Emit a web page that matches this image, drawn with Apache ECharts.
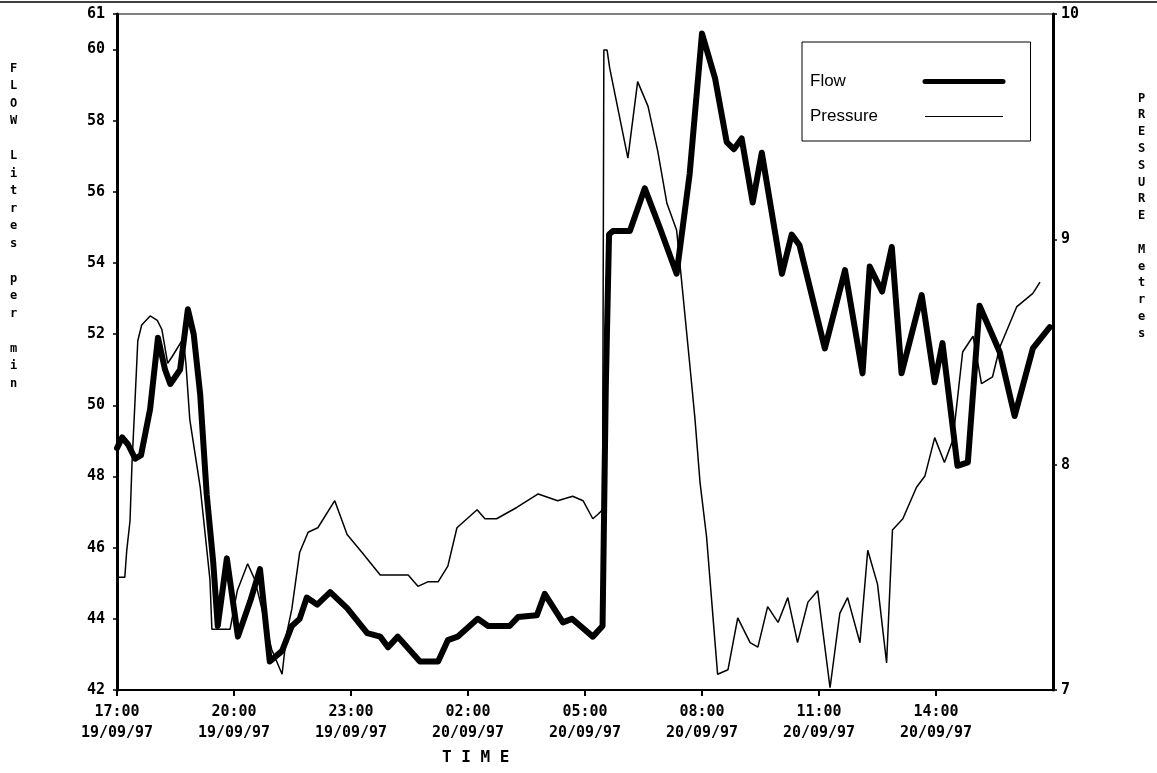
<!DOCTYPE html>
<html>
<head>
<meta charset="utf-8">
<script src="https://cdn.jsdelivr.net/npm/echarts@6/dist/echarts.min.js"></script>
<style>html,body{margin:0;padding:0;background:#fff;}#c{width:1157px;height:773px;}</style>
</head>
<body>
<div id="c"></div>
<script>
// minutes after 17:00 on 19/09/97
const flowTime = [0,8,17,28,37,51,63,74,82,97,109,118,128,138,148,155,169,186,205,220,235,254,269,281,292,308,328,354,385,405,417,432,466,494,509,524,555,571,604,617,646,658,686,700,732,747,752,757,763,789,812,835,861,881,900,920,938,949,961,978,992,1023,1038,1050,1089,1120,1147,1158,1177,1192,1207,1238,1258,1270,1293,1309,1327,1358,1381,1409,1435];
const flowValue = [48.8,49.1,48.9,48.5,48.6,49.9,51.9,51.0,50.6,51.0,52.7,52.0,50.3,47.5,45.6,43.8,45.7,43.5,44.5,45.4,42.8,43.1,43.8,44.0,44.6,44.4,44.75,44.3,43.6,43.5,43.2,43.5,42.8,42.8,43.4,43.5,44.0,43.8,43.8,44.05,44.1,44.7,43.9,44.0,43.5,43.8,50.5,54.8,54.9,54.9,56.1,55.0,53.7,56.5,60.45,59.2,57.4,57.2,57.5,55.7,57.1,53.7,54.8,54.5,51.6,53.8,50.9,53.9,53.2,54.45,50.9,53.1,50.65,51.75,48.3,48.4,52.8,51.5,49.7,51.6,52.2];
const pressureTime = [0,12,15,20,23,28,32,38,51,62,69,78,85,102,106,112,128,143,146,174,185,201,212,238,254,261,269,281,294,309,335,354,377,405,448,463,478,494,509,523,554,566,584,615,648,678,701,717,732,740,747,749,754,758,786,801,817,832,846,861,881,889,897,907,917,924,940,955,974,986,1001,1017,1032,1047,1063,1078,1097,1112,1124,1143,1155,1170,1184,1193,1209,1230,1243,1258,1273,1286,1301,1317,1330,1347,1358,1384,1409,1420];
const pressureValue = [7.5,7.5,7.62,7.75,8.0,8.3,8.55,8.62,8.66,8.64,8.6,8.45,8.48,8.56,8.45,8.2,7.9,7.49,7.27,7.27,7.44,7.56,7.49,7.18,7.07,7.25,7.36,7.61,7.7,7.72,7.84,7.69,7.61,7.51,7.51,7.46,7.48,7.48,7.55,7.72,7.8,7.76,7.76,7.81,7.87,7.84,7.86,7.84,7.76,7.78,7.8,9.84,9.84,9.76,9.36,9.7,9.59,9.39,9.16,9.04,8.45,8.21,7.92,7.68,7.32,7.07,7.09,7.32,7.21,7.19,7.37,7.3,7.41,7.21,7.39,7.44,7.01,7.34,7.41,7.21,7.62,7.47,7.12,7.71,7.76,7.9,7.95,8.12,8.01,8.11,8.5,8.57,8.36,8.39,8.52,8.7,8.76,8.81];
const xTickLabels = ['17:00\n19/09/97','20:00\n19/09/97','23:00\n19/09/97','02:00\n20/09/97','05:00\n20/09/97','08:00\n20/09/97','11:00\n20/09/97','14:00\n20/09/97'];
const seriesNames = ['Flow','Pressure'];
const leftTitle = 'FLOW Litres per min';
const rightTitle = 'PRESSURE Metres';
const xTitle = 'T I M E';

const zip = (a,b) => a.map((t,i) => [t,b[i]]);
const stack = s => s.split('').join('\n');
const mono = '"DejaVu Sans Mono", monospace';

const chart = echarts.init(document.getElementById('c'), null, {renderer:'canvas'});
chart.setOption({
  backgroundColor:'#fff',
  animation:false,
  grid:{left:117,right:104,top:14,bottom:83,show:true,borderColor:'#000',borderWidth:1,backgroundColor:'transparent'},
  xAxis:{type:'value',min:0,max:1440,interval:180,
    axisLine:{lineStyle:{color:'#000',width:2}},
    axisTick:{length:6,lineStyle:{color:'#000',width:2}},
    splitLine:{show:false},
    axisLabel:{color:'#000',fontFamily:mono,fontWeight:'bold',fontSize:15,lineHeight:21,margin:12,showMaxLabel:false,
      formatter:v => { const i = Math.round(v/180); return i < xTickLabels.length ? xTickLabels[i] : ''; }}
  },
  yAxis:[
    {type:'value',min:42,max:61,interval:2,position:'left',
     axisLine:{show:true,lineStyle:{color:'#000',width:3}},
     axisTick:{show:true,length:4,lineStyle:{color:'#000',width:1.5}},
     splitLine:{show:false},
     axisLabel:{color:'#000',fontFamily:mono,fontWeight:'bold',fontSize:15,margin:12}},
    {type:'value',min:7,max:10,interval:1,position:'right',
     axisLine:{show:true,lineStyle:{color:'#000',width:3}},
     axisTick:{show:true,length:4,lineStyle:{color:'#000',width:1.5}},
     splitLine:{show:false},
     axisLabel:{color:'#000',fontFamily:mono,fontWeight:'bold',fontSize:15,margin:8}}
  ],
  legend:{orient:'vertical',left:802,top:42,align:'right',
    borderColor:'#000',borderWidth:1,padding:[31,25,16,8],itemGap:18,itemWidth:78,itemHeight:14,
    formatter:'{a|{name}}',
    textStyle:{fontFamily:'"Liberation Sans", Arial, sans-serif',fontSize:17,color:'#000',
      rich:{a:{width:110,align:'left',fontFamily:'"Liberation Sans", Arial, sans-serif',fontSize:17,color:'#000'}}},
    data:[{name:seriesNames[0],lineStyle:{width:5,color:'#000'},itemStyle:{opacity:0,borderWidth:0}},
          {name:seriesNames[1],lineStyle:{width:1,color:'#000'},itemStyle:{opacity:0,borderWidth:0}}]
  },
  graphic:[
    {type:'line',shape:{x1:0,y1:2,x2:1157,y2:2},style:{stroke:'#000',lineWidth:1.5}},
    {type:'text',left:10,top:60,style:{text:stack(leftTitle),font:'bold 12px '+mono,fill:'#000',textAlign:'center',lineHeight:17.5}},
    {type:'text',left:1138,top:90,style:{text:stack(rightTitle),font:'bold 12px '+mono,fill:'#000',textAlign:'center',lineHeight:16.8}},
    {type:'text',left:442,top:750,style:{text:xTitle,font:'bold 16px '+mono,fill:'#000'}}
  ],
  series:[
    {name:seriesNames[0],type:'line',yAxisIndex:0,symbol:'none',data:zip(flowTime,flowValue),
     lineStyle:{color:'#000',width:6,join:'round',cap:'round'},itemStyle:{color:'#000'}},
    {name:seriesNames[1],type:'line',yAxisIndex:1,symbol:'none',data:zip(pressureTime,pressureValue),
     lineStyle:{color:'#000',width:1.5},itemStyle:{color:'#000'}}
  ]
});
</script>
</body>
</html>
